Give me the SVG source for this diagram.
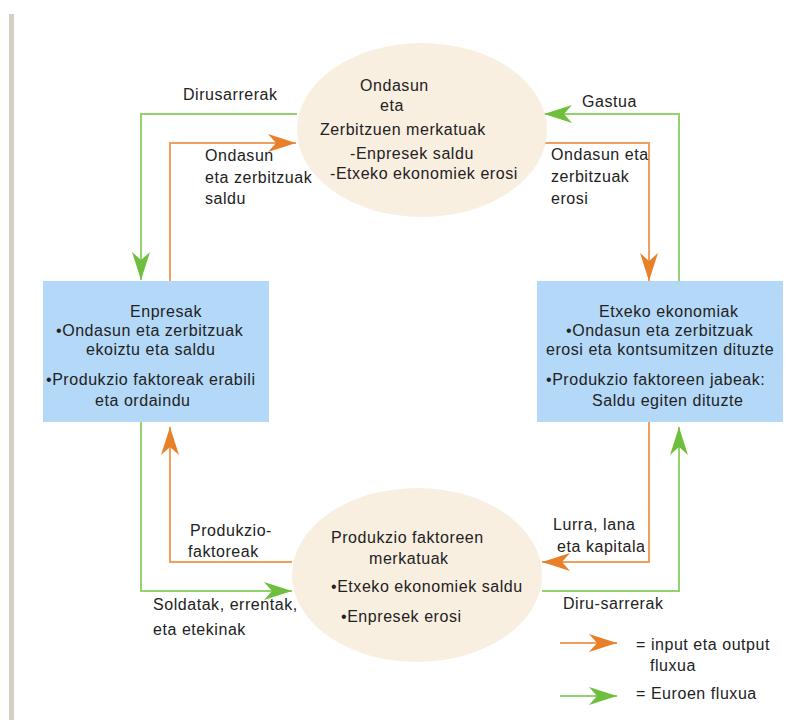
<svg xmlns="http://www.w3.org/2000/svg" width="798" height="720" viewBox="0 0 798 720">
<style>
text{font-family:"Liberation Sans",Arial,sans-serif;font-size:16px;letter-spacing:0.55px;fill:#222}
.ell{fill:#f9efe1}
.box{fill:#b4d8f7}
.o{fill:none;stroke:#f0a05c;stroke-width:2}
.g{fill:none;stroke:#93d26d;stroke-width:2}
</style>
<defs>
<marker id="ao" markerUnits="userSpaceOnUse" markerWidth="30" markerHeight="20" refX="28" refY="9" orient="auto" viewBox="0 0 30 20"><path d="M0,0 L28,9 L0,18 L8,9 Z" fill="#e8802a"/></marker>
<marker id="ag" markerUnits="userSpaceOnUse" markerWidth="30" markerHeight="20" refX="28" refY="9" orient="auto" viewBox="0 0 30 20"><path d="M0,0 L28,9 L0,18 L8,9 Z" fill="#6fbf3f"/></marker>
</defs>
<rect x="9" y="14" width="5" height="706" fill="#d4cfc5"/>
<g id="connectors">
<path class="g" d="M297,114 H141 V280" marker-end="url(#ag)"/>
<path class="o" d="M170,281 V143 H296" marker-end="url(#ao)"/>
<path class="g" d="M679,281 V114 H544" marker-end="url(#ag)"/>
<path class="o" d="M545,143 H649 V281" marker-end="url(#ao)"/>
<path class="g" d="M141,422 V591 H292" marker-end="url(#ag)"/>
<path class="o" d="M292,562 H170 V427" marker-end="url(#ao)"/>
<path class="o" d="M649,422 V562 H542" marker-end="url(#ao)"/>
<path class="g" d="M542,591 H679 V427" marker-end="url(#ag)"/>
</g>
<g id="goods-market">
<ellipse class="ell" cx="422" cy="130" rx="125" ry="87"/>
<text x="360" y="91">Ondasun</text>
<text x="380" y="111">eta</text>
<text x="320" y="135">Zerbitzuen merkatuak</text>
<text x="350" y="159">-Enpresek saldu</text>
<text x="330" y="179">-Etxeko ekonomiek erosi</text>
</g>
<g id="factor-market">
<ellipse class="ell" cx="417" cy="575" rx="125" ry="87"/>
<text x="331" y="543">Produkzio faktoreen</text>
<text x="369" y="564">merkatuak</text>
<text x="331" y="592">•Etxeko ekonomiek saldu</text>
<text x="341" y="622">•Enpresek erosi</text>
</g>
<g id="enpresak">
<rect class="box" x="43" y="281" width="226" height="141"/>
<text x="130" y="317">Enpresak</text>
<text x="56" y="336">•Ondasun eta zerbitzuak</text>
<text x="86" y="355">ekoiztu eta saldu</text>
<text x="46" y="385">•Produkzio faktoreak erabili</text>
<text x="95" y="406">eta ordaindu</text>
</g>
<g id="etxeko">
<rect class="box" x="537" y="281" width="246" height="141"/>
<text x="599" y="317">Etxeko ekonomiak</text>
<text x="566" y="336">•Ondasun eta zerbitzuak</text>
<text x="546" y="355">erosi eta kontsumitzen dituzte</text>
<text x="546" y="385">•Produkzio faktoreen jabeak:</text>
<text x="592" y="406">Saldu egiten dituzte</text>
</g>
<g id="labels">
<text x="183" y="100">Dirusarrerak</text>
<text x="205" y="161">Ondasun</text>
<text x="205" y="183">eta zerbitzuak</text>
<text x="205" y="204">saldu</text>
<text x="582" y="107">Gastua</text>
<text x="551" y="160">Ondasun eta</text>
<text x="551" y="182">zerbitzuak</text>
<text x="551" y="204">erosi</text>
<text x="190" y="536">Produkzio-</text>
<text x="188" y="557">faktoreak</text>
<text x="153" y="610">Soldatak, errentak,</text>
<text x="153" y="635">eta etekinak</text>
<text x="553" y="530">Lurra, lana</text>
<text x="557" y="552">eta kapitala</text>
<text x="563" y="609">Diru-sarrerak</text>
</g>
<g id="legend">
<path class="o" d="M560,643 H617" marker-end="url(#ao)"/>
<text x="636" y="650">= input eta output</text>
<text x="650" y="671">fluxua</text>
<path class="g" d="M560,696 H617" marker-end="url(#ag)"/>
<text x="636" y="699">= Euroen fluxua</text>
</g>
</svg>
